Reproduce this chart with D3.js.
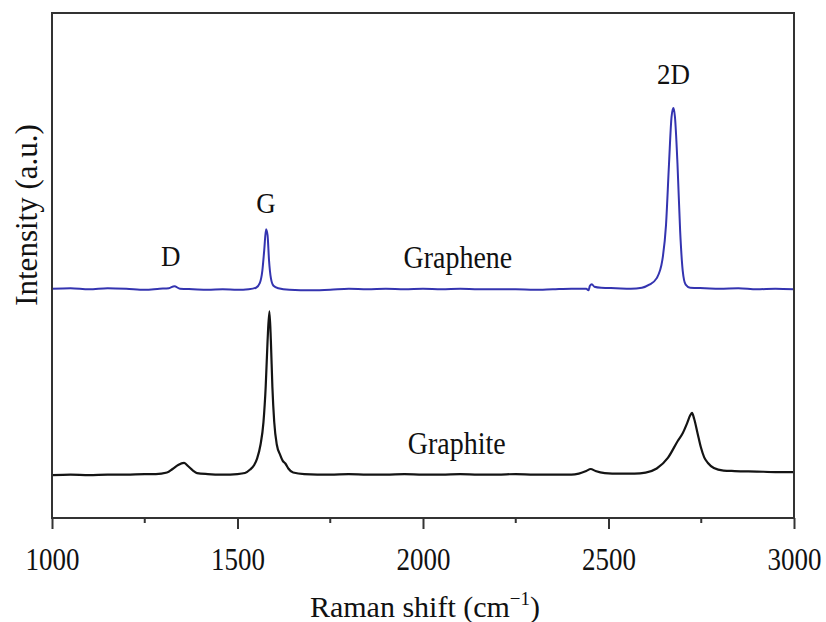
<!DOCTYPE html>
<html>
<head>
<meta charset="utf-8">
<script src="https://cdn.jsdelivr.net/npm/d3@7"></script>
<style>
  body { margin: 0; background: #fff; }
  text { font-family: "Liberation Serif", "Times New Roman", serif; fill: #111; }
</style>
</head>
<body>
<div id="chart"></div>
<script>
// Raman spectra: [wavenumber (cm-1), intensity (a.u.)]
const graphene = [
  [1000,45.4],[1050,45.5],[1100,45.3],[1150,45.5],[1200,45.4],[1250,45.2],[1290,45.4],[1315,45.5],
  [1330,45.9],[1345,45.4],[1380,45.3],[1420,45.2],[1460,45.3],[1500,45.2],[1530,45.3],[1550,45.6],
  [1560,46.5],[1567,49],[1572,53],[1577,57.2],[1581,56],[1585,51],[1590,47.5],[1597,46],[1610,45.5],
  [1640,45.2],[1700,45.1],[1750,45.2],[1800,45.4],[1850,45.3],[1900,45.4],[1950,45.3],[2000,45.4],
  [2050,45.3],[2100,45.4],[2150,45.3],[2200,45.3],[2250,45.3],[2300,45.2],[2350,45.3],[2400,45.4],
  [2440,45.4],[2446,45.1],[2450,46.0],[2455,46.3],[2462,45.8],[2480,45.6],[2520,45.5],[2560,45.4],
  [2590,45.6],[2610,46.2],[2630,47.5],[2645,51],[2655,58],[2663,70],[2670,79.5],[2675,81.2],
  [2679,79.5],[2686,70],[2693,57],[2700,49],[2708,46.2],[2720,45.6],[2760,45.5],[2800,45.4],
  [2850,45.5],[2900,45.3],[2950,45.4],[3000,45.3]
];

const graphite = [
  [1000,8.5],[1050,8.6],[1100,8.5],[1150,8.6],[1200,8.6],[1250,8.7],[1280,8.7],[1310,9.0],
  [1325,9.7],[1340,10.5],[1356,10.9],[1368,10.2],[1380,9.4],[1391,8.9],[1420,8.7],[1460,8.6],
  [1500,8.7],[1520,8.9],[1534,9.6],[1545,10.5],[1553,11.8],[1562,14.5],[1570,19],[1576,26],
  [1581,35],[1586,40.9],[1590,35],[1594,26],[1599,19],[1606,14.5],[1615,12.5],[1622,11.3],
  [1629,10.8],[1637,9.8],[1650,9.0],[1680,8.7],[1750,8.6],[1800,8.7],[1850,8.6],[1900,8.6],
  [1950,8.7],[2000,8.6],[2050,8.6],[2100,8.7],[2150,8.6],[2200,8.6],[2250,8.7],[2300,8.6],
  [2350,8.6],[2400,8.6],[2420,8.8],[2440,9.3],[2452,9.7],[2465,9.3],[2490,8.9],[2530,8.8],
  [2570,8.8],[2600,9.0],[2630,9.8],[2660,11.9],[2687,15.3],[2700,16.8],[2712,18.8],[2720,20.3],
  [2725,20.8],[2731,19.6],[2740,16.8],[2749,14],[2758,12],[2768,10.9],[2784,9.9],[2810,9.4],
  [2840,9.3],[2900,9.2],[2950,9.1],[3000,9.1]
];

const majorTicks = [1000, 1500, 2000, 2500, 3000];
const minorTicks = [1250, 1750, 2250, 2750];

const peakLabels = [
  { text: "D", x: 1320, y: 49.9 },
  { text: "G", x: 1577, y: 60.3 },
  { text: "2D", x: 2675, y: 86.0 }
];
const seriesLabels = [
  { text: "Graphene", x: 2094, y: 49.6 },
  { text: "Graphite", x: 2091, y: 12.7 }
];

const width = 826, height = 622;
const margin = { left: 52, right: 794, top: 13, bottom: 518 };

const svg = d3.select("#chart").append("svg")
  .attr("width", width).attr("height", height);

const x = d3.scaleLinear().domain([1000, 3000]).range([margin.left, margin.right]);
const y = d3.scaleLinear().domain([0, 100]).range([margin.bottom, margin.top]);

const line = d3.line()
  .x(d => x(d[0]))
  .y(d => y(d[1]))
  .curve(d3.curveMonotoneX);

// spectra
svg.append("path")
  .datum(graphene)
  .attr("fill", "none")
  .attr("stroke", "#3434b0")
  .attr("stroke-width", 2)
  .attr("stroke-linejoin", "round")
  .attr("d", line);

svg.append("path")
  .datum(graphite)
  .attr("fill", "none")
  .attr("stroke", "#141414")
  .attr("stroke-width", 2.2)
  .attr("stroke-linejoin", "round")
  .attr("d", line);

// frame
svg.append("rect")
  .attr("x", margin.left).attr("y", margin.top)
  .attr("width", margin.right - margin.left).attr("height", margin.bottom - margin.top)
  .attr("fill", "none")
  .attr("stroke", "#333")
  .attr("stroke-width", 2);

// bottom axis
const xAxis = svg.append("g")
  .attr("transform", `translate(0,${margin.bottom})`)
  .call(d3.axisBottom(x).tickValues(majorTicks).tickSize(11).tickSizeOuter(0).tickFormat(d3.format("d")));
xAxis.select(".domain").remove();
xAxis.selectAll(".tick line").attr("stroke", "#333").attr("stroke-width", 2);
xAxis.selectAll(".tick text")
  .attr("y", 0).attr("dy", 0)
  .attr("transform", "translate(0,52) scale(1,1.15)")
  .style("font-family", "'Liberation Serif', serif")
  .style("font-size", "27px")
  .attr("fill", "#111");

svg.append("g")
  .attr("transform", `translate(0,${margin.bottom})`)
  .selectAll("line")
  .data(minorTicks)
  .join("line")
  .attr("x1", d => x(d)).attr("x2", d => x(d))
  .attr("y1", 0).attr("y2", 5)
  .attr("stroke", "#333").attr("stroke-width", 2);

// axis titles
const xt = svg.append("text")
  .attr("x", 425).attr("y", 617)
  .attr("text-anchor", "middle")
  .style("font-size", "30px");
xt.append("tspan").text("Raman shift (cm");
xt.append("tspan").attr("dy", -12).style("font-size", "19px").text("−1");
xt.append("tspan").attr("dy", 12).text(")");

svg.append("text")
  .attr("transform", "translate(37,215) rotate(-90)")
  .attr("text-anchor", "middle")
  .style("font-size", "31px")
  .text("Intensity (a.u.)");

// labels
svg.selectAll(".peak")
  .data(peakLabels)
  .join("text")
  .attr("class", "peak")
  .attr("transform", d => `translate(${x(d.x)},${y(d.y)}) scale(1,1.12)`)
  .attr("text-anchor", "middle")
  .style("font-size", "27px")
  .text(d => d.text);

svg.selectAll(".series")
  .data(seriesLabels)
  .join("text")
  .attr("class", "series")
  .attr("transform", d => `translate(${x(d.x)},${y(d.y)}) scale(1,1.12)`)
  .attr("text-anchor", "middle")
  .style("font-size", "28px")
  .text(d => d.text);
</script>
</body>
</html>
